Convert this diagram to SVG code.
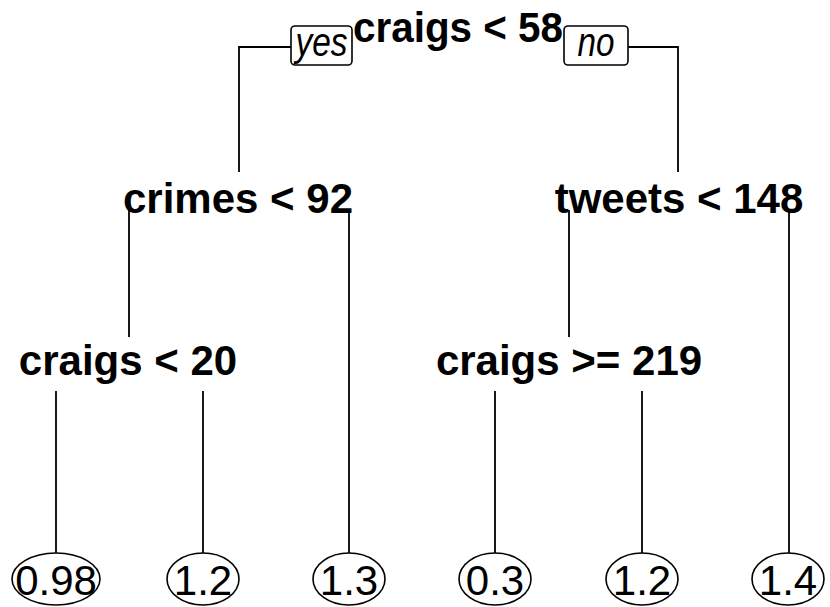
<svg xmlns="http://www.w3.org/2000/svg" width="830" height="607" viewBox="0 0 830 607">
  <style>
    .edge { fill: none; stroke: #000; stroke-width: 1.8; }
    .split { font-family: "Liberation Sans", Arial, sans-serif; font-weight: bold; font-size: 42px; fill: #000; text-anchor: middle; }
    .leaf ellipse { fill: #fff; stroke: #000; stroke-width: 1.6; }
    .leaf text { font-family: "Liberation Sans", Arial, sans-serif; font-size: 42px; fill: #000; text-anchor: middle; }
    .tag rect { fill: #fff; stroke: #000; stroke-width: 1.6; }
    .tag text { font-family: "Liberation Sans", Arial, sans-serif; font-style: italic; font-size: 40px; fill: #000; text-anchor: middle; }
  </style>
  <rect width="830" height="607" fill="#fff"/>

  <!-- branches -->
  <g id="connectors">
    <polyline class="edge" points="291,47 239,47 239,172"/>
    <polyline class="edge" points="628,47 678,47 678,172"/>
    <line class="edge" x1="129" y1="210" x2="129" y2="337"/>
    <line class="edge" x1="349" y1="210" x2="349" y2="553"/>
    <line class="edge" x1="569" y1="210" x2="569" y2="337"/>
    <line class="edge" x1="789" y1="210" x2="789" y2="553"/>
    <line class="edge" x1="56" y1="391" x2="56" y2="553"/>
    <line class="edge" x1="203" y1="391" x2="203" y2="553"/>
    <line class="edge" x1="495" y1="391" x2="495" y2="553"/>
    <line class="edge" x1="642" y1="391" x2="642" y2="553"/>
  </g>

  <!-- yes / no tags beside the root split -->
  <g id="tag-yes" class="tag">
    <rect x="291" y="26" width="61" height="39" rx="4"/>
    <text x="321.5" y="56" textLength="52" lengthAdjust="spacingAndGlyphs">yes</text>
  </g>
  <g id="tag-no" class="tag">
    <rect x="564" y="26" width="64" height="39" rx="4"/>
    <text x="596" y="56" textLength="37" lengthAdjust="spacingAndGlyphs">no</text>
  </g>

  <!-- split nodes -->
  <g id="node-root"><text class="split" x="458" y="42" textLength="210" lengthAdjust="spacingAndGlyphs">craigs &lt; 58</text></g>
  <g id="node-crimes"><text class="split" x="238" y="213">crimes &lt; 92</text></g>
  <g id="node-tweets"><text class="split" x="679" y="213">tweets &lt; 148</text></g>
  <g id="node-craigs20"><text class="split" x="128" y="375">craigs &lt; 20</text></g>
  <g id="node-craigs219"><text class="split" x="569" y="375">craigs &gt;= 219</text></g>

  <!-- leaves -->
  <g id="leaf-1" class="leaf"><ellipse cx="56" cy="579" rx="44" ry="26"/><text x="56" y="595">0.98</text></g>
  <g id="leaf-2" class="leaf"><ellipse cx="203" cy="579" rx="36" ry="26"/><text x="203" y="595">1.2</text></g>
  <g id="leaf-3" class="leaf"><ellipse cx="349" cy="579" rx="36" ry="26"/><text x="349" y="595">1.3</text></g>
  <g id="leaf-4" class="leaf"><ellipse cx="495" cy="579" rx="36" ry="26"/><text x="495" y="595">0.3</text></g>
  <g id="leaf-5" class="leaf"><ellipse cx="642" cy="579" rx="36" ry="26"/><text x="642" y="595">1.2</text></g>
  <g id="leaf-6" class="leaf"><ellipse cx="788" cy="579" rx="36" ry="26"/><text x="788" y="595">1.4</text></g>
</svg>
